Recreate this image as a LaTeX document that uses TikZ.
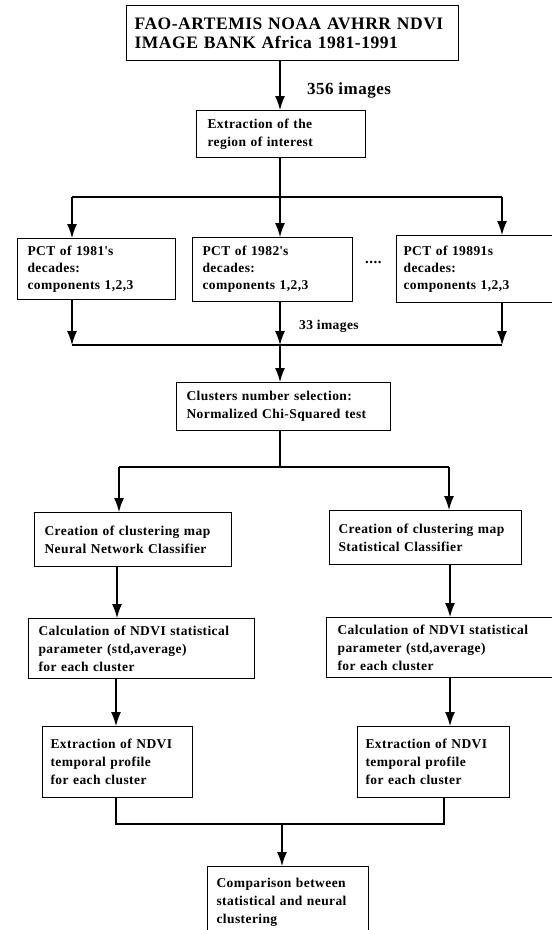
\documentclass[tikz,border=0pt]{standalone}
\usepackage{fontspec}
\setmainfont{Liberation Serif}[LetterSpace=3.0]
\usetikzlibrary{arrows.meta}
\newcommand\bodyfont{\bfseries\fontsize{13.5}{18}\selectfont}
\newcommand\pctfont{\bfseries\fontsize{13.5}{17}\selectfont}
\newcommand\titlefont{\bfseries\fontsize{17.5}{19}\selectfont}
\begin{document}
\begin{tikzpicture}[x=1pt,y=-1pt,
  bx/.style={draw, line width=1.2pt, anchor=north west, align=left, inner ysep=0pt, font=\bodyfont},
  arr/.style={line width=1.2pt, -{Latex[length=14pt,width=10pt]}},
  ln/.style={line width=1.2pt},
  lbl/.style={anchor=west, inner sep=0pt, font=\bodyfont}]
\useasboundingbox (0,0) rectangle (552,930);
% boxes
\node[bx, font=\titlefont, minimum width=332pt, minimum height=55pt, text width=316pt, inner xsep=8pt] (top) at (126,5)
  {FAO-ARTEMIS NOAA AVHRR NDVI\\IMAGE BANK Africa 1981-1991};
\node[bx, minimum width=169pt, minimum height=47pt, text width=147pt, inner xsep=11pt] (ext) at (196,110)
  {Extraction of the\\region of interest};
\node[bx, font=\pctfont, minimum width=158pt, minimum height=61pt, text width=138pt, inner xsep=10pt] (b1) at (17,238)
  {PCT of 1981\textquotesingle s\\decades:\\components 1,2,3};
\node[bx, font=\pctfont, minimum width=160pt, minimum height=64pt, text width=140pt, inner xsep=10pt] (b2) at (192,237)
  {PCT of 1982\textquotesingle s\\decades:\\components 1,2,3};
\node[bx, font=\pctfont, minimum width=170pt, minimum height=67pt, text width=156pt, inner xsep=7pt] (b3) at (396,235)
  {PCT of 19891s\\decades:\\components 1,2,3};
\node[bx, minimum width=214pt, minimum height=48pt, text width=194pt, inner xsep=10pt] (clu) at (176,382)
  {Clusters number selection:\\Normalized Chi-Squared test};
\node[bx, minimum width=197pt, minimum height=54pt, text width=177pt, inner xsep=10pt] (nn) at (34,512)
  {Creation of clustering map\\Neural Network Classifier};
\node[bx, minimum width=192pt, minimum height=54pt, text width=174pt, inner xsep=9pt] (st) at (329,510)
  {Creation of clustering map\\Statistical Classifier};
\node[bx, minimum width=226pt, minimum height=60pt, text width=206pt, inner xsep=10pt] (cnn) at (28,618)
  {Calculation of NDVI statistical\\parameter (std,average)\\for each cluster};
\node[bx, minimum width=240pt, minimum height=60pt, text width=218pt, inner xsep=11pt] (cst) at (326,617)
  {Calculation of NDVI statistical\\parameter (std,average)\\for each cluster};
\node[bx, minimum width=150pt, minimum height=71pt, text width=134pt, inner xsep=8pt] (enn) at (42,726)
  {Extraction of NDVI\\temporal profile\\for each cluster};
\node[bx, minimum width=152pt, minimum height=71pt, text width=136pt, inner xsep=8pt] (est) at (357,726)
  {Extraction of NDVI\\temporal profile\\for each cluster};
\node[bx, minimum width=161pt, minimum height=72pt, text width=143pt, inner xsep=9pt] (cmp) at (207,866)
  {Comparison between\\statistical and neural\\clustering};
% labels
\node[lbl, font=\bfseries\fontsize{17}{19}\selectfont] (l356) at (307,90) {356 images};
\node[lbl] (l33) at (299,326) {33 images};
\node[lbl, font=\bfseries\fontsize{15}{18}\selectfont] (dots) at (365,262) {....};
% junction coordinates
\coordinate (cM) at (280,0);
\coordinate (j1) at (280,197); \coordinate (j1L) at (72,197); \coordinate (j1R) at (502,197);
\coordinate (j2) at (280,345); \coordinate (j2L) at (72,345); \coordinate (j2R) at (502,345);
\coordinate (j3) at (280,467); \coordinate (j3L) at (119,467); \coordinate (j3R) at (449,467);
\coordinate (cL) at (117,0); \coordinate (cR) at (450,0);
\coordinate (j4) at (282,824); \coordinate (j4L) at (116,824); \coordinate (j4R) at (444,824);
% connectors
\draw[arr] (top.south -| cM) -- (ext.north -| cM);
\draw[ln] (ext.south -| j1) -- (j1);
\draw[ln] (j1L) -- (j1R);
\draw[arr] (j1L) -- (b1.north -| j1L);
\draw[arr] (j1) -- (b2.north -| j1);
\draw[arr] (j1R) -- (b3.north -| j1R);
\draw[arr] (b1.south -| j2L) -- (j2L);
\draw[arr] (b2.south -| j2) -- (j2);
\draw[arr] (b3.south -| j2R) -- (j2R);
\draw[ln] (j2L) -- (j2R);
\draw[arr] (j2) -- (clu.north -| j2);
\draw[ln] (clu.south -| j3) -- (j3);
\draw[ln] (j3L) -- (j3R);
\draw[arr] (j3L) -- (nn.north -| j3L);
\draw[arr] (j3R) -- (st.north -| j3R);
\draw[arr] (nn.south -| cL) -- (cnn.north -| cL);
\draw[arr] (st.south -| cR) -- (cst.north -| cR);
\draw[arr] (cnn.south -| j4L) -- (enn.north -| j4L);
\draw[arr] (cst.south -| cR) -- (est.north -| cR);
\draw[ln] (enn.south -| j4L) -- (j4L) -- (j4R) -- (est.south -| j4R);
\draw[arr] (j4) -- (cmp.north -| j4);
\end{tikzpicture}
\end{document}
